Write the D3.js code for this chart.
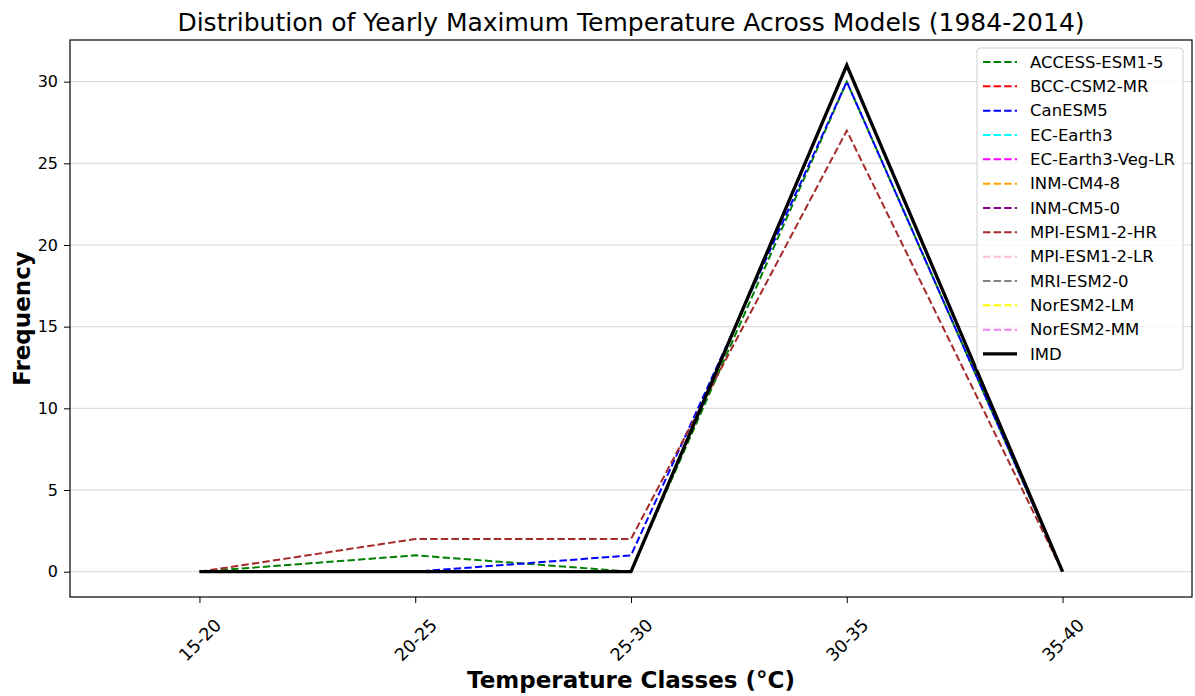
<!DOCTYPE html>
<html>
<head>
<meta charset="utf-8">
<script src="https://cdn.jsdelivr.net/npm/d3@7"></script>
<style>
  body { margin: 0; background: #fff; }
  text { font-family: "DejaVu Sans", sans-serif; }
</style>
</head>
<body>
<div id="chart"></div>
<script>
// clases de temperatura
var classes = ["15-20", "20-25", "25-30", "30-35", "35-40"];

// frecuencias por modelo
var accessEsm15 = [0, 1, 0, 30, 0];
var bccCsm2Mr = [0, 0, 0, 31, 0];
var canEsm5 = [0, 0, 1, 30, 0];
var ecEarth3 = [0, 0, 0, 31, 0];
var ecEarth3VegLr = [0, 0, 0, 31, 0];
var inmCm48 = [0, 0, 0, 31, 0];
var inmCm50 = [0, 0, 0, 31, 0];
var mpiEsm12Hr = [0, 2, 2, 27, 0];
var mpiEsm12Lr = [0, 0, 0, 31, 0];
var mriEsm20 = [0, 0, 0, 31, 0];
var norEsm2Lm = [0, 0, 0, 31, 0];
var norEsm2Mm = [0, 0, 0, 31, 0];
var imd = [0, 0, 0, 31, 0];

var yTicks = [0, 5, 10, 15, 20, 25, 30];

var series = [
  {name: "ACCESS-ESM1-5", values: accessEsm15, color: "green"},
  {name: "BCC-CSM2-MR", values: bccCsm2Mr, color: "red"},
  {name: "CanESM5", values: canEsm5, color: "blue"},
  {name: "EC-Earth3", values: ecEarth3, color: "cyan"},
  {name: "EC-Earth3-Veg-LR", values: ecEarth3VegLr, color: "magenta"},
  {name: "INM-CM4-8", values: inmCm48, color: "orange"},
  {name: "INM-CM5-0", values: inmCm50, color: "purple"},
  {name: "MPI-ESM1-2-HR", values: mpiEsm12Hr, color: "brown"},
  {name: "MPI-ESM1-2-LR", values: mpiEsm12Lr, color: "pink"},
  {name: "MRI-ESM2-0", values: mriEsm20, color: "gray"},
  {name: "NorESM2-LM", values: norEsm2Lm, color: "yellow"},
  {name: "NorESM2-MM", values: norEsm2Mm, color: "violet"},
  {name: "IMD", values: imd, color: "black", solid: true}
];

var W = 1195, H = 696;
var margin = {top: 40, right: 3, bottom: 99, left: 70},
    width = W - margin.left - margin.right,
    height = H - margin.top - margin.bottom;

var svg = d3.select("#chart").append("svg")
    .attr("width", W).attr("height", H)
  .append("g")
    .attr("transform", "translate(" + margin.left + "," + margin.top + ")");

var x = d3.scaleLinear().domain([-0.6, 4.6]).range([0, width]);
var y = d3.scaleLinear().domain([-1.55, 32.55]).range([height, 0]);

// rejilla horizontal
svg.append("g").selectAll("line").data(yTicks).enter().append("line")
  .attr("x1", 0).attr("x2", width)
  .attr("y1", function(d) { return y(d); })
  .attr("y2", function(d) { return y(d); })
  .attr("stroke", "#b0b0b0").attr("stroke-opacity", 0.5).attr("stroke-width", 1);

// lineas
var line = d3.line()
  .x(function(d, i) { return x(i); })
  .y(function(d) { return y(d); });

svg.append("g").selectAll("path").data(series).enter().append("path")
  .attr("d", function(d) { return line(d.values); })
  .attr("fill", "none")
  .attr("stroke", function(d) { return d.color; })
  .attr("stroke-width", function(d) { return d.solid ? 3.3 : 2; })
  .attr("stroke-dasharray", function(d) { return d.solid ? null : "7.4,3.2"; })
  .attr("stroke-linejoin", "miter");

// ejes
var xAxis = svg.append("g")
  .attr("transform", "translate(0," + height + ")")
  .call(d3.axisBottom(x).tickValues(d3.range(classes.length))
        .tickFormat(function(i) { return classes[i]; }).tickSize(6));
xAxis.selectAll("text")
  .style("font-size", "17.5px").attr("fill", "#000")
  .style("text-anchor", "middle")
  .attr("y", 0).attr("dy", "0.35em")
  .attr("transform", "translate(0,43) rotate(-45)");

var yAxis = svg.append("g")
  .call(d3.axisLeft(y).tickValues(yTicks).tickSize(6).tickPadding(6));
yAxis.selectAll("text").style("font-size", "16px").attr("fill", "#000");

svg.selectAll(".domain").remove();
svg.selectAll(".tick line").attr("stroke", "#000").attr("stroke-width", 1);

// marco
svg.append("rect")
  .attr("width", width).attr("height", height)
  .attr("fill", "none").attr("stroke", "#000").attr("stroke-width", 1.2);

// titulos
svg.append("text")
  .attr("x", width / 2).attr("y", -9)
  .style("text-anchor", "middle").style("font-size", "25px")
  .text("Distribution of Yearly Maximum Temperature Across Models (1984-2014)");

svg.append("text")
  .attr("x", width / 2).attr("y", height + 91)
  .style("text-anchor", "middle").style("font-size", "23px").style("font-weight", "bold")
  .text("Temperature Classes (°C)");

svg.append("text")
  .attr("transform", "rotate(-90)")
  .attr("x", -height / 2).attr("y", -40)
  .style("text-anchor", "middle").style("font-size", "23px").style("font-weight", "bold")
  .text("Frequency");

// leyenda
var legend = svg.append("g").attr("transform", "translate(" + (977 - margin.left) + "," + (48 - margin.top) + ")");
legend.append("rect")
  .attr("width", 206).attr("height", 322).attr("rx", 3)
  .attr("fill", "#fff").attr("fill-opacity", 0.8)
  .attr("stroke", "#d0d0d0").attr("stroke-width", 1);

var item = legend.selectAll("g.item").data(series).enter().append("g")
  .attr("class", "item")
  .attr("transform", function(d, i) { return "translate(0," + (14 + i * 24.33) + ")"; });
item.append("line")
  .attr("x1", 6).attr("x2", 40)
  .attr("stroke", function(d) { return d.color; })
  .attr("stroke-width", function(d) { return d.solid ? 3.3 : 2; })
  .attr("stroke-dasharray", function(d) { return d.solid ? null : "7.4,3.2"; });
item.append("text")
  .attr("x", 53).attr("dy", "0.35em")
  .style("font-size", "16.5px").attr("fill", "#000")
  .text(function(d) { return d.name; });
</script>
</body>
</html>
